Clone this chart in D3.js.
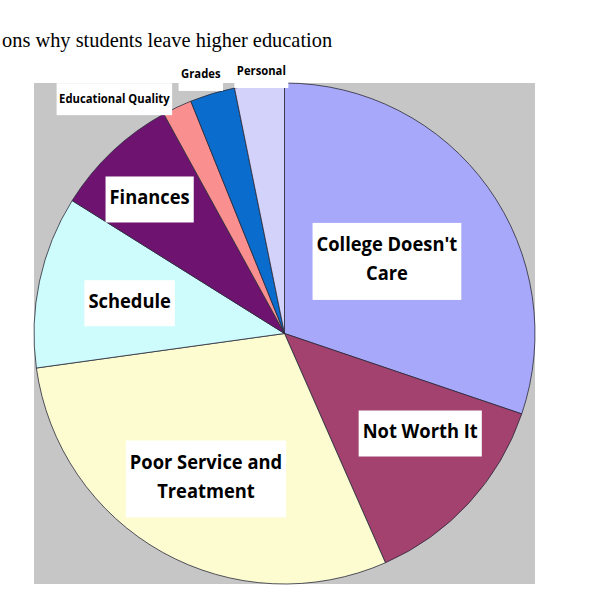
<!DOCTYPE html>
<html>
<head>
<meta charset="utf-8">
<script src="https://cdn.jsdelivr.net/npm/d3@7"></script>
<style>
    body { margin: 0; background: #fff; }
    .slice-label { font-family: "Open Sans", "Noto Sans", sans-serif; font-weight: bold; fill: #000; }
    .title { font-family: "Liberation Serif", "DejaVu Serif", serif; fill: #000; }
</style>
</head>
<body>
<svg id="chart" width="600" height="600"></svg>
<script>
/* Reasons why students leave higher education - pie */

// data (share of answers, %)
const categories = [
    "College Doesn't Care",
    "Not Worth It",
    "Poor Service and Treatment",
    "Schedule",
    "Finances",
    "Educational Quality",
    "Grades",
    "Personal"
];
const shares = [30.2, 13.2, 29.4, 11.1, 8.1, 1.9, 2.9, 3.2];
const labelLines = [
    ["College Doesn't", "Care"],
    ["Not Worth It"],
    ["Poor Service and", "Treatment"],
    ["Schedule"],
    ["Finances"],
    ["Educational Quality"],
    ["Grades"],
    ["Personal"]
];
const titleText = "ons why students leave higher education";

// styles (old Excel palette)
const colors = ["#a8a8fa", "#a3416f", "#fcfcd0", "#cefcfc", "#6e1470", "#f98f8f", "#0a6ccc", "#d2d2fa"];

// where the labels were dragged to: radius factor and angle shift (deg) from the slice middle
const labelPlacement = [
    { r: 0.50, da: 0.5, small: false },
    { r: 0.673, da: -6.1, small: false },
    { r: 0.66, da: -0.8, small: false },
    { r: 0.63, da: -1.0, small: false },
    { r: 0.759, da: -1.8, small: false },
    { r: 1.156, da: -10.6, small: true },
    { r: 1.085, da: -1.2, small: true },
    { r: 1.048, da: 0.7, small: true }
];

const plot = { x: 34, y: 83, size: 501 },
    radius = plot.size / 2,
    cx = plot.x + plot.size / 2,
    cy = plot.y + plot.size / 2;

const fontSizes = { big: 19.5, small: 12.5 };
const condense = { big: 0.94, small: 0.9 };

const svg = d3.select("#chart");

svg.append("text")
    .attr("class", "title")
    .attr("x", 2)
    .attr("y", 47)
    .attr("font-size", "20.4px")
    .text(titleText);

// plot area
svg.append("rect")
    .attr("x", plot.x)
    .attr("y", plot.y)
    .attr("width", plot.size)
    .attr("height", plot.size)
    .attr("fill", "#c6c6c6");

const pieData = d3
    .pie()
    .sort(null)
    .value(d => d.value)(categories.map((c, i) => ({ name: c, value: shares[i], idx: i })));

const arc = d3.arc().innerRadius(0).outerRadius(radius);

const g = svg.append("g").attr("transform", `translate(${cx},${cy})`);

g.selectAll("path")
    .data(pieData)
    .enter()
    .append("path")
    .attr("d", arc)
    .attr("fill", d => colors[d.data.idx])
    .attr("stroke", "#2a2a3a")
    .attr("stroke-width", 0.8)
    .attr("stroke-linejoin", "round");

// labels: white box behind bold text
const gLabels = g.append("g");

pieData.forEach(d => {
    const p = labelPlacement[d.data.idx];
    const kind = p.small ? "small" : "big";
    const mid = (d.startAngle + d.endAngle) / 2 + (p.da * Math.PI) / 180;
    const lx = Math.sin(mid) * radius * p.r,
        ly = -Math.cos(mid) * radius * p.r;
    const lines = labelLines[d.data.idx];
    const lineHeight = 29;

    const lg = gLabels.append("g").attr("transform", `translate(${lx},${ly})`);
    const box = lg.append("rect").attr("fill", "#fff");
    const txt = lg
        .append("text")
        .attr("class", "slice-label")
        .attr("text-anchor", "middle")
        .attr("font-size", `${fontSizes[kind]}px`);

    let maxW = 0;
    lines.forEach((line, i) => {
        const t = txt
            .append("tspan")
            .attr("x", 0)
            .attr("y", (p.small ? 3.5 : 4.5) + (i - (lines.length - 1) / 2) * lineHeight)
            .text(line);
        const w = t.node().getComputedTextLength() * condense[kind];
        t.attr("textLength", w).attr("lengthAdjust", "spacingAndGlyphs");
        maxW = Math.max(maxW, w);
    });

    const padX = p.small ? 2.5 : 4;
    const h = p.small ? 32 : 46 + 31 * (lines.length - 1);
    box.attr("x", -maxW / 2 - padX)
        .attr("y", -h / 2)
        .attr("width", maxW + padX * 2)
        .attr("height", h);
});
</script>
</body>
</html>
